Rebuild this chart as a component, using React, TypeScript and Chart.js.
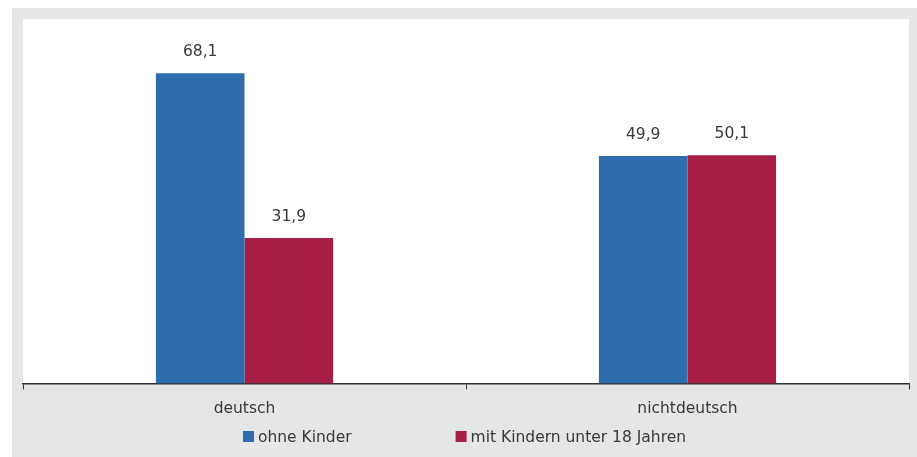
import React, { useEffect, useRef } from "react";
import { Chart, registerables } from "chart.js";

Chart.register(...registerables);

const categories = ["deutsch", "nichtdeutsch"];
const seriesNames = ["ohne Kinder", "mit Kindern unter 18 Jahren"];
const ohneKinder = [68.1, 49.9];
const mitKindern = [31.9, 50.1];
const colors = ["#2d6dad", "#a61e44"];

const FONT = "'DejaVu Sans', sans-serif";
const TEXT = "#383838";

const fmt = (v: number) => v.toFixed(1).replace(".", ",");

const plotBg = {
  id: "plotBg",
  beforeDraw(chart: any) {
    const { ctx, chartArea } = chart;
    ctx.save();
    ctx.fillStyle = "#ffffff";
    ctx.fillRect(chartArea.left, chartArea.top, chartArea.right - chartArea.left, chartArea.bottom - chartArea.top);
    ctx.restore();
  },
};

const valueLabels = {
  id: "valueLabels",
  afterDatasetsDraw(chart: any) {
    const { ctx } = chart;
    ctx.save();
    ctx.font = `15.5px ${FONT}`;
    ctx.fillStyle = TEXT;
    ctx.textAlign = "center";
    ctx.textBaseline = "middle";
    chart.data.datasets.forEach((ds: any, i: number) => {
      const meta = chart.getDatasetMeta(i);
      meta.data.forEach((el: any, j: number) => {
        ctx.fillText(fmt(ds.data[j]), el.x, el.y - 21);
      });
    });
    ctx.restore();
  },
};

const customLegend = {
  id: "customLegend",
  afterDraw(chart: any) {
    const { ctx, width } = chart;
    ctx.save();
    ctx.font = `15.5px ${FONT}`;
    const box = 11;
    const gapBoxText = 4;
    const gapItems = 104;
    const items = chart.data.datasets.map((ds: any) => ({
      label: ds.label,
      color: ds.backgroundColor,
      w: ctx.measureText(ds.label).width,
    }));
    let total = 0;
    items.forEach((it: any, i: number) => {
      total += box + gapBoxText + it.w + (i < items.length - 1 ? gapItems : 0);
    });
    let x = width / 2 - total / 2;
    const yMid = 428.5;
    items.forEach((it: any) => {
      ctx.fillStyle = it.color;
      ctx.fillRect(x, yMid - box / 2, box, box);
      ctx.fillStyle = TEXT;
      ctx.textAlign = "left";
      ctx.textBaseline = "middle";
      ctx.fillText(it.label, x + box + gapBoxText, yMid + 1);
      x += box + gapBoxText + it.w + gapItems;
    });
    ctx.restore();
  },
};

export default function App() {
  const ref = useRef<HTMLCanvasElement>(null);

  useEffect(() => {
    if (!ref.current) return;
    const chart = new Chart(ref.current, {
      type: "bar",
      data: {
        labels: categories,
        datasets: [
          { label: seriesNames[0], data: ohneKinder, backgroundColor: colors[0], borderWidth: 0 },
          { label: seriesNames[1], data: mitKindern, backgroundColor: colors[1], borderWidth: 0 },
        ],
      },
      options: {
        animation: false,
        responsive: false,
        devicePixelRatio: 1,
        layout: { padding: { left: 11, right: 8, top: 11, bottom: 29 } },
        datasets: { bar: { categoryPercentage: 0.4, barPercentage: 1.0 } },
        plugins: { legend: { display: false }, tooltip: { enabled: false } },
        scales: {
          x: {
            grid: {
              display: true,
              drawOnChartArea: false,
              drawTicks: true,
              tickLength: 6,
              color: "#333333",
              offset: true,
            },
            border: { display: true, color: "#333333", width: 1.5 },
            ticks: { font: { family: FONT, size: 15.5 }, color: TEXT, padding: 10 },
          },
          y: { display: false, min: 0, max: 80 },
        },
      },
      plugins: [plotBg, valueLabels, customLegend],
    });
    return () => chart.destroy();
  }, []);

  return (
    <div style={{ position: "absolute", left: 12, top: 8, width: 905, height: 449, background: "#e5e6e8" }}>
      <canvas ref={ref} width={905} height={449} style={{ display: "block" }} />
    </div>
  );
}
